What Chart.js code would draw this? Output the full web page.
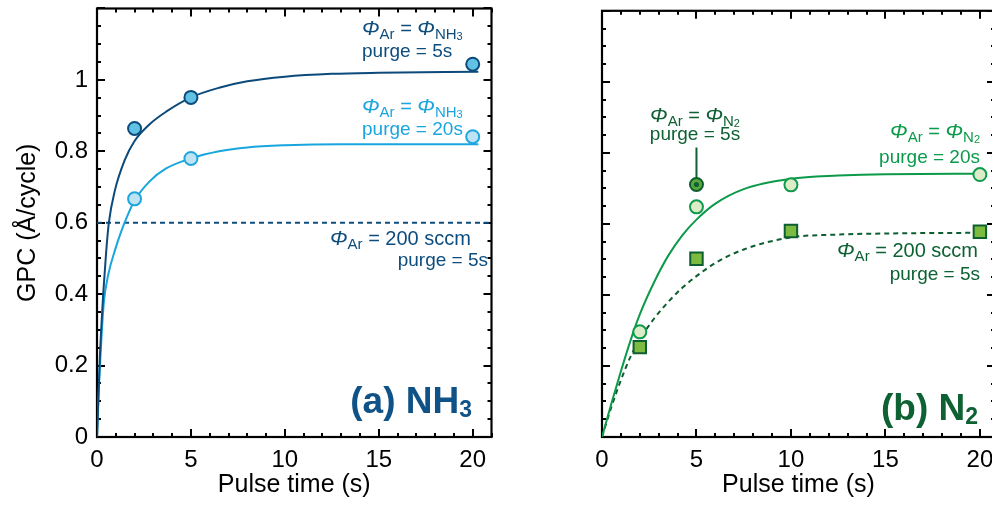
<!DOCTYPE html>
<html>
<head>
<meta charset="utf-8">
<script src="https://cdn.jsdelivr.net/npm/chart.js@4.4.1/dist/chart.umd.min.js"></script>
<style>
  html, body { margin: 0; padding: 0; background: #fff; overflow: hidden; }
  body { width: 992px; height: 508px; position: relative; }
  .panel { position: absolute; top: 0; height: 508px; }
  #wrapA { left: 0; width: 500px; }
  #wrapB { left: 500px; width: 510px; }
</style>
</head>
<body>
<div class="panel" id="wrapA"><canvas id="chartA"></canvas></div>
<div class="panel" id="wrapB"><canvas id="chartB"></canvas></div>
<script>
// ---- (a) NH3 : measured points ----
const nh3Pulse = [2, 5, 20];
const nh3Purge5 = [0.864, 0.951, 1.044];
const nh3Purge20 = [0.667, 0.780, 0.841];

// fitted curves
const nh3Fit5X = [0, 0.16, 0.25, 0.33, 0.48, 0.63, 0.95, 1.48, 2, 2.8, 3.68, 5, 6.5, 8, 10, 12.5, 15, 20.3];
const nh3Fit5Y = [0, 0.233, 0.326, 0.40, 0.513, 0.60, 0.69, 0.776, 0.829, 0.876, 0.911, 0.951, 0.978, 0.996, 1.009, 1.017, 1.020, 1.023];
const nh3Fit20X = [0, 0.12, 0.25, 0.37, 0.6, 0.95, 1.3, 1.6, 2, 2.8, 3.68, 5, 6.5, 8, 10, 13, 20.3];
const nh3Fit20Y = [0, 0.16, 0.29, 0.38, 0.455, 0.522, 0.577, 0.617, 0.662, 0.716, 0.752, 0.780, 0.800, 0.811, 0.817, 0.820, 0.820];
const nh3RefX = [0, 21];
const nh3RefY = [0.6, 0.6];

// ---- (b) N2 : measured points ----
const n2Pulse = [2, 5, 10, 20];
const n2Purge20 = [0.296, 0.648, 0.710, 0.739];
const n2Sccm = [0.253, 0.502, 0.580, 0.578];
const n2Purge5X = [5];
const n2Purge5 = [0.711];

const n2FitX = [0, 0.5, 1, 1.5, 2, 2.75, 3.5, 4.25, 5, 6, 7.5, 10, 12.5, 15, 20];
const n2FitY = [0, 0.095, 0.185, 0.27, 0.345, 0.435, 0.51, 0.568, 0.612, 0.657, 0.698, 0.727, 0.736, 0.740, 0.741];
const n2SccmFitX = [0, 0.5, 1, 1.5, 2.1, 2.75, 3.5, 4.25, 5, 6, 7.5, 10, 12.5, 15, 20];
const n2SccmFitY = [0, 0.085, 0.16, 0.225, 0.283, 0.333, 0.38, 0.42, 0.453, 0.49, 0.528, 0.562, 0.570, 0.573, 0.575];
const n2LeaderX = [5, 5];
const n2LeaderY = [0.727, 0.815];

// axis ticks
const xTickValues = [0, 5, 10, 15, 20];
const yTickValues = [0, 0.2, 0.4, 0.6, 0.8, 1];

const FONT = "'Liberation Sans', Arial, Helvetica, sans-serif";
const darkBlue = '#0d4d7e';
const lightBlue = '#1aa5de';
const darkGreen = '#0d6133';
const green = '#0b9a4a';

const pts = (xs, ys) => xs.map((x, i) => ({ x: x, y: ys[i] }));

function curve(xs, ys, color, dash) {
    return {
        data: pts(xs, ys),
        showLine: true,
        borderColor: color,
        borderWidth: 2,
        borderDash: dash || [],
        pointRadius: 0,
        cubicInterpolationMode: 'monotone',
        fill: false
    };
}

function markers(xs, ys, fill, edge, style, radius) {
    return {
        data: pts(xs, ys),
        showLine: false,
        pointStyle: style || 'circle',
        pointRadius: radius || 6.5,
        pointBackgroundColor: fill,
        pointBorderColor: edge,
        pointBorderWidth: 2
    };
}

// frame with inward ticks on all four sides
const frameTicks = {
    id: 'frameTicks',
    beforeDatasetsDraw(chart) {
        const { ctx, chartArea: a, scales: { x, y } } = chart;
        ctx.save();
        ctx.strokeStyle = '#000';
        ctx.lineWidth = 2;
        ctx.beginPath();
        for (let v = 0; v <= x.max + 1e-9; v += 1) {
            const px = Math.round(x.getPixelForValue(v));
            const len = v % 5 === 0 ? 8 : 4;
            ctx.moveTo(px, a.bottom); ctx.lineTo(px, a.bottom - len);
            ctx.moveTo(px, a.top); ctx.lineTo(px, a.top + len);
        }
        for (let i = 0; i * 0.05 <= y.max + 1e-9; i++) {
            const py = Math.round(y.getPixelForValue(i * 0.05));
            const len = i % 4 === 0 ? 8 : 4;
            ctx.moveTo(a.left, py); ctx.lineTo(a.left + len, py);
            ctx.moveTo(a.right, py); ctx.lineTo(a.right - len, py);
        }
        ctx.stroke();
        ctx.lineWidth = 2.2;
        ctx.strokeRect(a.left, a.top, a.right - a.left, a.bottom - a.top);
        ctx.restore();
    }
};

// rich text: italic phi, subscripts
function drawRich(ctx, parts, x, y, align, color) {
    let w = 0;
    parts.forEach(p => {
        ctx.font = (p.b ? 'bold ' : '') + (p.it ? 'italic ' : '') + p.s + 'px ' + FONT;
        p.w = ctx.measureText(p.t).width;
        w += p.w;
    });
    let cx = align === 'right' ? x - w : align === 'center' ? x - w / 2 : x;
    ctx.fillStyle = color;
    ctx.textBaseline = 'alphabetic';
    ctx.textAlign = 'left';
    parts.forEach(p => {
        ctx.font = (p.b ? 'bold ' : '') + (p.it ? 'italic ' : '') + p.s + 'px ' + FONT;
        ctx.fillText(p.t, cx, y + (p.dy || 0));
        cx += p.w;
    });
}

function phiEq(gas, digit) {
    return [
        { t: 'Φ', it: true, s: 21 },
        { t: 'Ar', s: 15, dy: 4 },
        { t: ' = ', s: 20 },
        { t: 'Φ', it: true, s: 21 },
        { t: gas, s: 15, dy: 4 },
        { t: digit, s: 11, dy: 5 }
    ];
}
function phiSccm() {
    return [
        { t: 'Φ', it: true, s: 21 },
        { t: 'Ar', s: 15, dy: 4 },
        { t: ' = 200 sccm', s: 20 }
    ];
}
const plain = (t) => [{ t: t, s: 19 }];

function labelPlugin(items) {
    return {
        id: 'labels',
        afterDraw(chart) {
            const ctx = chart.ctx;
            ctx.save();
            items.forEach(it => drawRich(ctx, it.parts, it.x, it.y, it.align, it.color));
            ctx.restore();
        }
    };
}

function makeOptions(xMax, showY, padRight, yAxisWidth) {
    return {
        responsive: true,
        maintainAspectRatio: false,
        animation: false,
        devicePixelRatio: 1,
        layout: { padding: { top: 8, right: padRight, bottom: 0, left: 0 } },
        plugins: { legend: { display: false }, tooltip: { enabled: false } },
        scales: {
            x: {
                type: 'linear', min: 0, max: xMax,
                afterBuildTicks: s => { s.ticks = xTickValues.map(v => ({ value: v })); },
                afterFit: s => { s.height = 71; s.paddingLeft = 0; s.paddingRight = 0; },
                grid: { display: false, drawTicks: false },
                border: { display: false },
                ticks: { color: '#000', font: { family: FONT, size: 24 }, padding: 9, maxRotation: 0 },
                title: { display: true, text: 'Pulse time (s)', color: '#000',
                         font: { family: FONT, size: 25 }, padding: { top: 0, bottom: 8 } }
            },
            y: {
                type: 'linear', min: 0, max: 1.2,
                afterBuildTicks: s => { s.ticks = yTickValues.map(v => ({ value: v })); },
                afterFit: s => { s.width = yAxisWidth; s.paddingTop = 0; s.paddingBottom = 0; },
                grid: { display: false, drawTicks: false },
                border: { display: false },
                ticks: { display: showY, color: '#000', font: { family: FONT, size: 24 }, padding: 9,
                         callback: v => String(v) },
                title: { display: showY, text: 'GPC (Å/cycle)', color: '#000',
                         font: { family: FONT, size: 25 }, padding: { top: 13, bottom: 0 } }
            }
        }
    };
}

// ---- panel (a) ----
new Chart(document.getElementById('chartA'), {
    type: 'scatter',
    data: {
        datasets: [
            markers(nh3Pulse, nh3Purge5, '#62c2e6', '#0b4c7c'),
            markers(nh3Pulse, nh3Purge20, '#bde3f4', '#1ea6de'),
            curve(nh3Fit5X, nh3Fit5Y, '#0b4a7a'),
            curve(nh3Fit20X, nh3Fit20Y, '#18a6de'),
            curve(nh3RefX, nh3RefY, '#0d4d7e', [5, 4])
        ]
    },
    options: makeOptions(21, true, 6, 97),
    plugins: [frameTicks, labelPlugin([
        { parts: phiEq('NH', '3'), x: 362, y: 35, align: 'left', color: darkBlue },
        { parts: plain('purge = 5s'), x: 362, y: 57, align: 'left', color: darkBlue },
        { parts: phiEq('NH', '3'), x: 362, y: 113, align: 'left', color: lightBlue },
        { parts: plain('purge = 20s'), x: 362, y: 135, align: 'left', color: lightBlue },
        { parts: phiSccm(), x: 330, y: 245, align: 'left', color: darkBlue },
        { parts: plain('purge = 5s'), x: 488, y: 266, align: 'right', color: darkBlue },
        { parts: [{ t: '(a) NH', s: 37, b: true }, { t: '3', s: 23, b: true, dy: 4 }],
          x: 472, y: 413, align: 'right', color: '#0f5287' }
    ])]
});

// ---- panel (b) ----
new Chart(document.getElementById('chartB'), {
    type: 'scatter',
    data: {
        datasets: [
            markers(n2Purge5X, n2Purge5, darkGreen, darkGreen, 'circle', 1.6),
            markers(n2Purge5X, n2Purge5, '#5aa83c', '#0d5e30'),
            markers(n2Pulse, n2Sccm, '#7dbb40', '#0d5e30', 'rect', 8.8),
            markers(n2Pulse, n2Purge20, '#dcebc8', '#0f9a4c'),
            curve(n2LeaderX, n2LeaderY, darkGreen),
            curve(n2FitX, n2FitY, '#0c9a4a'),
            curve(n2SccmFitX, n2SccmFitY, '#0d5e30', [5, 4])
        ]
    },
    options: makeOptions(20.8, false, 15, 102),
    plugins: [frameTicks, labelPlugin([
        { parts: phiEq('N', '2'), x: 195, y: 122, align: 'center', color: darkGreen },
        { parts: plain('purge = 5s'), x: 195, y: 140, align: 'center', color: darkGreen },
        { parts: phiEq('N', '2'), x: 480, y: 138, align: 'right', color: green },
        { parts: plain('purge = 20s'), x: 480, y: 163, align: 'right', color: green },
        { parts: phiSccm(), x: 478, y: 257, align: 'right', color: darkGreen },
        { parts: plain('purge = 5s'), x: 480, y: 280, align: 'right', color: darkGreen },
        { parts: [{ t: '(b) N', s: 37, b: true }, { t: '2', s: 23, b: true, dy: 4 }],
          x: 478, y: 420, align: 'right', color: '#0e6133' }
    ])]
});
</script>
</body>
</html>
